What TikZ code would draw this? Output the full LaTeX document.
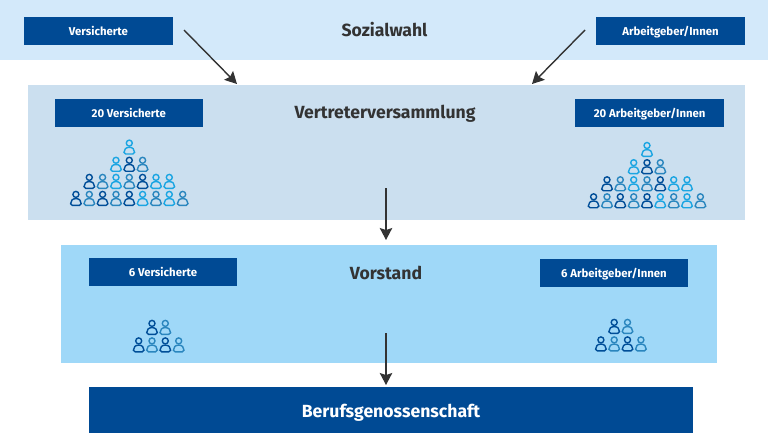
\documentclass[tikz,border=0pt]{standalone}
\usepackage{fontspec}
\setmainfont{Fira Sans}
\usepackage{xcolor}
\usepackage{tikz}
\usetikzlibrary{arrows.meta,positioning,calc}
\definecolor{boxblue}{HTML}{004A94}
\definecolor{wahlblue}{HTML}{D3E9FA}
\definecolor{vvblue}{HTML}{CBDFEF}
\definecolor{vorblue}{HTML}{9FD8F8}
\definecolor{txtdark}{HTML}{333333}
\definecolor{pdark}{HTML}{004E98}
\definecolor{pmid}{HTML}{2A86BE}
\definecolor{plight}{HTML}{1BA5E2}
% one row of a crowd: x/colour pairs, at height #1
\newcommand{\crowdrow}[2]{%
  \foreach \px/\pc in {#2} {\pic[\pc] at (\px,#1) {person};}%
}
\newcommand{\bigcrowd}[2]{%
  \begin{scope}[shift={(#1,#2)}]
    \crowdrow{0}{0/plight}
    \crowdrow{17.2}{-13.3/plight,0/pdark,13.3/pmid}
    \crowdrow{34.3}{-40/pdark,-26.7/pmid,-13.3/plight,0/pmid,13.3/pdark,26.7/plight,40/plight}
    \crowdrow{51.3}{-53.4/pdark,-40/pmid,-26.7/pdark,-13.3/pmid,0/pdark,13.3/plight,26.7/pmid,40/plight,53.4/pmid}
  \end{scope}%
}
\newcommand{\smallcrowd}[2]{%
  \begin{scope}[shift={(#1,#2)}]
    \crowdrow{0}{0/pdark,13.3/pmid}
    \crowdrow{17.5}{-13.3/pdark,0/pmid,13.3/pdark,26.7/pmid}
  \end{scope}%
}

\begin{document}
\begin{tikzpicture}[
  x=1pt, y=-1pt,
  band/.style={inner sep=0pt, outer sep=0pt},
  rolebox/.style={fill=boxblue, inner sep=0pt, minimum width=148.5pt, minimum height=28.5pt, text height=9pt, text depth=0pt, text=white, font=\fontsize{11.4}{14}\selectfont\bfseries},
  title/.style={text=txtdark, font=\fontsize{17.6}{22}\selectfont\bfseries, inner sep=0pt, text height=13pt, text depth=0pt},
  arr/.style={-{Stealth[length=12pt,width=12.5pt,inset=2pt]}, line width=1.4pt, color=txtdark},
  person/.pic={
    \draw[pic actions, line width=1.4pt, fill=none] (0,-3.9) circle (3pt);
    \draw[pic actions, line width=1.4pt, fill=none] (-3.6,7) -- (3.6,7) .. controls (4.8,7) and (5.3,6.5) .. (5.3,5.4) .. controls (5.3,2.4) and (3.4,0.3) .. (0,0.3) .. controls (-3.4,0.3) and (-5.3,2.4) .. (-5.3,5.4) .. controls (-5.3,6.5) and (-4.8,7) .. (-3.6,7) -- cycle;
  },
]
\useasboundingbox (0,0) rectangle (768,433);

\node[band, fill=wahlblue, minimum width=768pt, minimum height=60.5pt] (wahl) at (384,30.25) {};
\node[band, fill=vvblue, minimum width=717pt, minimum height=135pt] (vv) at (386.5,152.5) {};
\node[band, fill=vorblue, minimum width=656pt, minimum height=118.5pt] (vorstand) at (389,303.75) {};
\node[band, fill=boxblue, minimum width=604pt, minimum height=46pt] (bg) at (391,410) {};

\node[title] (wahltext) at (384.5,30.5) {Sozialwahl};
\node[title] (vvtext) at (385,112) {Vertreterversammlung};
\node[title] (vorstandtext) at (386,272.5) {Vorstand};
\node[title, text=white] (bgtext) at (391,411) {Berufsgenossenschaft};

\node[rolebox] (wahlvers) at (98.4,31) {Versicherte};
\node[rolebox] (wahlarb) at (670.5,31) {Arbeitgeber/Innen};
\node[rolebox] (vvvers) at (128.8,113.2) {20 Versicherte};
\node[rolebox] (vvarb) at (649.7,113.2) {20 Arbeitgeber/Innen};
\node[rolebox] (vorvers) at (163,272) {6 Versicherte};
\node[rolebox] (vorarb) at (614,273) {6 Arbeitgeber/Innen};

\bigcrowd{129.3}{147}
\bigcrowd{647}{149.4}
\smallcrowd{152}{327.3}
\smallcrowd{614.2}{326.3}

\coordinate (versout) at (184,30);
\coordinate (versin) at (237,84);
\coordinate (arbout) at (585,30);
\coordinate (arbin) at (532,84);
\coordinate (vvout) at (386,188);
\coordinate (vvin) at (386,240);
\coordinate (vorout) at (386,333);
\coordinate (vorin) at (386,385);

\draw[arr] (versout) -- (versin);
\draw[arr] (arbout) -- (arbin);
\draw[arr] (vvout) -- (vvin);
\draw[arr] (vorout) -- (vorin);

\end{tikzpicture}
\end{document}
